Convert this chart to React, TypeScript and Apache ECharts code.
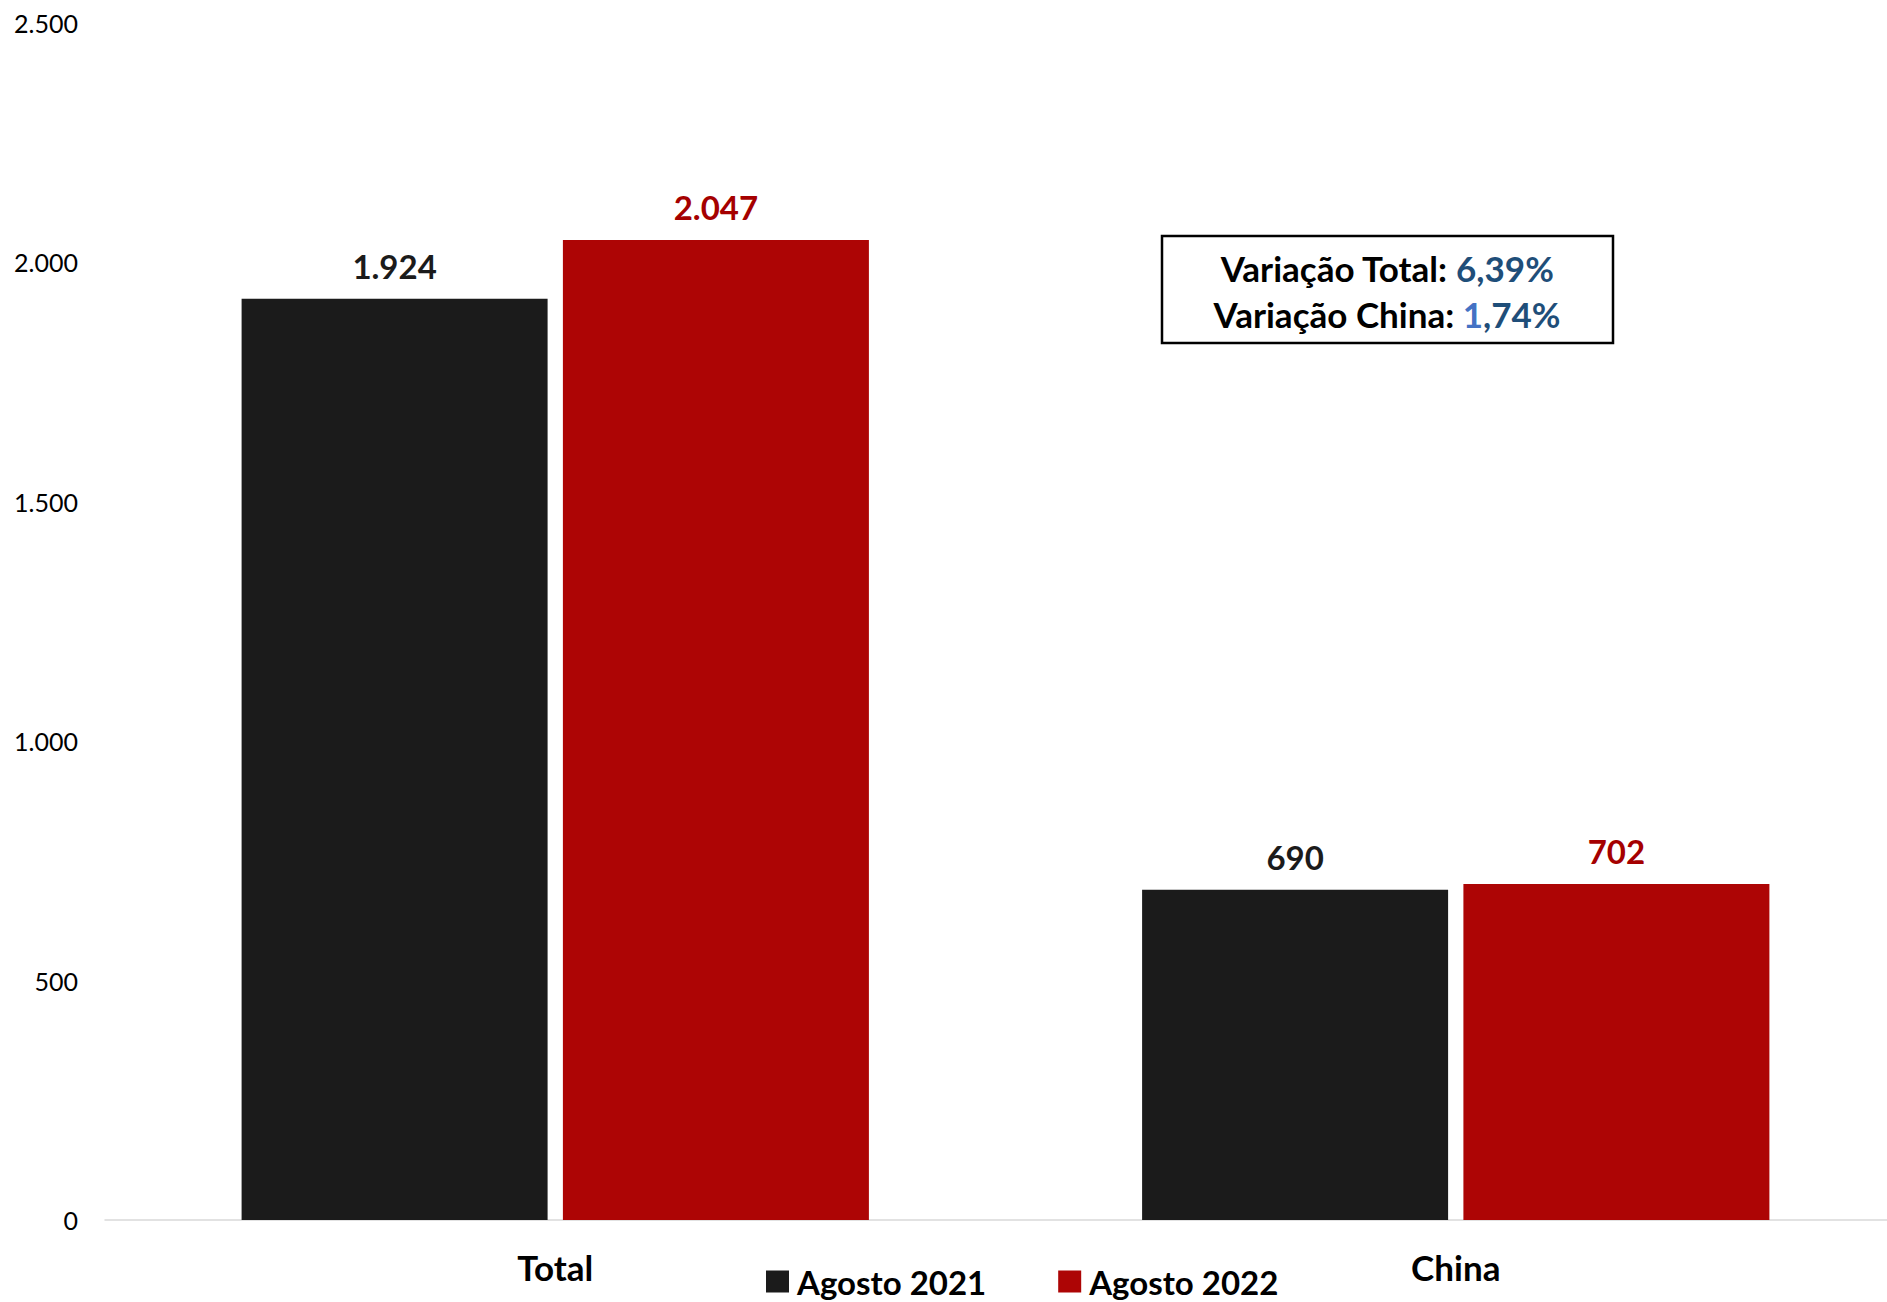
import React, { useEffect, useRef } from "react";
import * as echarts from "echarts";

const categories = ["Total", "China"];
const seriesNames = ["Agosto 2021", "Agosto 2022"];
const values2021 = [1924, 690];
const values2022 = [2047, 702];
const yTicks = { min: 0, max: 2500, interval: 500 };
const noteLine1 = ["Variação Total: ", "6,39%"];
const noteLine2 = ["Variação China: ", "1", ",74%"];

const FONT = "Lato, 'Noto Sans', sans-serif";
const BLACK = "#1B1B1B";
const RED = "#AD0505";

function fmt(v: number): string {
  return String(Math.round(v)).replace(/\B(?=(\d{3})+(?!\d))/g, ".");
}

export default function App() {
  const ref = useRef<HTMLDivElement>(null);
  useEffect(() => {
    if (!ref.current) return;
    const chart = echarts.init(ref.current, undefined, { renderer: "svg" });
    const labelStyle = (color: string) => ({
      show: true,
      position: "top",
      distance: 16,
      color,
      fontFamily: FONT,
      fontWeight: "bold",
      fontSize: 33,
      formatter: (p: any) => fmt(p.value),
    });
    chart.setOption({
      animation: false,
      backgroundColor: "#ffffff",
      grid: { left: 105, top: 23, right: 0, bottom: 82, containLabel: false },
      legend: {
        data: seriesNames,
        left: 761,
        top: 1260,
        icon: "rect",
        itemWidth: 23,
        itemHeight: 22,
        itemGap: 72,
        textStyle: {
          fontFamily: FONT,
          fontWeight: "bold",
          fontSize: 33,
          lineHeight: 28,
          color: "#000000",
          padding: [0, 0, 0, 3],
        },
      },
      xAxis: {
        type: "category",
        data: categories,
        axisLine: { show: true, lineStyle: { color: "#D9D9D9", width: 1.5 } },
        axisTick: { show: false },
        axisLabel: {
          margin: 29,
          fontFamily: FONT,
          fontWeight: "bold",
          fontSize: 35,
          lineHeight: 35,
          color: "#000000",
        },
      },
      yAxis: {
        type: "value",
        min: yTicks.min,
        max: yTicks.max,
        interval: yTicks.interval,
        splitLine: { show: false },
        axisLine: { show: false },
        axisTick: { show: false },
        axisLabel: {
          margin: 27,
          fontFamily: FONT,
          fontSize: 25,
          color: "#000000",
          formatter: (v: number) => fmt(v),
        },
      },
      series: [
        {
          name: seriesNames[0],
          type: "bar",
          data: values2021,
          barWidth: 306,
          barGap: "5%",
          itemStyle: { color: BLACK },
          label: labelStyle(BLACK),
        },
        {
          name: seriesNames[1],
          type: "bar",
          data: values2022,
          barWidth: 306,
          barGap: "5%",
          itemStyle: { color: RED },
          label: labelStyle("#A50000"),
        },
      ],
      graphic: [
        {
          type: "rect",
          shape: { x: 1162, y: 236, width: 451, height: 107 },
          style: { fill: "#ffffff", stroke: "#000000", lineWidth: 2.5 },
          z: 10,
        },
        {
          type: "text",
          x: 1387,
          y: 291,
          z: 11,
          style: {
            text:
              "{b|" + noteLine1[0] + "}{d|" + noteLine1[1] + "}\n{b|" +
              noteLine2[0] + "}{l|" + noteLine2[1] + "}{d|" + noteLine2[2] + "}",
            align: "center",
            verticalAlign: "middle",
            fontFamily: FONT,
            fontWeight: "bold",
            fontSize: 35,
            lineHeight: 46,
            rich: {
              b: { fontFamily: FONT, fontWeight: "bold", fontSize: 35, lineHeight: 46, fill: "#000000" },
              d: { fontFamily: FONT, fontWeight: "bold", fontSize: 35, lineHeight: 46, fill: "#1F4E79" },
              l: { fontFamily: FONT, fontWeight: "bold", fontSize: 35, lineHeight: 46, fill: "#4472C4" },
            },
          },
        },
      ],
    });
    return () => chart.dispose();
  }, []);
  return (
    <div
      ref={ref}
      style={{ position: "fixed", left: 0, top: 0, width: 1906, height: 1302 }}
    />
  );
}
